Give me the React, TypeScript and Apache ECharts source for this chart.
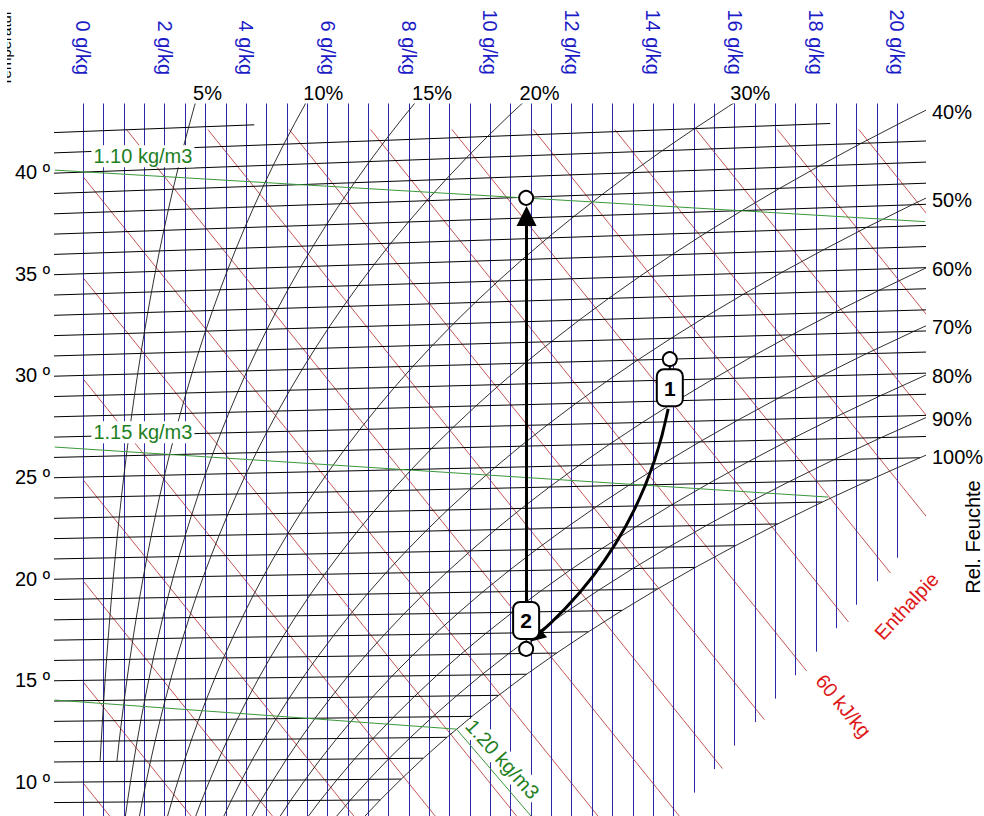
import React, { useEffect, useRef } from "react";
import * as echarts from "echarts";

// ---------------- data ----------------
const AIR_PRESSURE_HPA = 990;

// saturation vapour pressure over water (hPa) per temperature (°C)
const satTemps = [8, 9, 10, 11, 12, 13, 14, 15, 16, 17, 18, 19, 20, 21, 22, 23, 24, 25, 26, 27, 28, 29, 30, 31, 32, 33, 34, 35, 36, 37, 38, 39, 40, 41, 42, 43, 44, 45];
const satPressureHpa = [10.73, 11.48, 12.28, 13.12, 14.02, 14.97, 15.98, 17.04, 18.17, 19.37, 20.63, 21.96, 23.37, 24.86, 26.43, 28.08, 29.83, 31.67, 33.61, 35.65, 37.8, 40.06, 42.43, 44.93, 47.55, 50.31, 53.2, 56.24, 59.42, 62.76, 66.26, 69.93, 73.77, 77.8, 82.01, 86.42, 91.03, 95.85];

const rhLevels = [5, 10, 15, 20, 30, 40, 50, 60, 70, 80, 90, 100];
const rhLowestTemp = [11, 11, 8, 8, 8, 8, 8, 8, 8, 8, 8, 8];

const isothermTemps = [8, 9, 10, 11, 12, 13, 14, 15, 16, 17, 18, 19, 20, 21, 22, 23, 24, 25, 26, 27, 28, 29, 30, 31, 32, 33, 34, 35, 36, 37, 38, 39, 40, 41, 42];
const isothermCapTemps = [41, 42];
const isothermCapX = [18.35, 4.2];

const moistureGridLines = [0, 0.5, 1, 1.5, 2, 2.5, 3, 3.5, 4, 4.5, 5, 5.5, 6, 6.5, 7, 7.5, 8, 8.5, 9, 9.5, 10, 10.5, 11, 11.5, 12, 12.5, 13, 13.5, 14, 14.5, 15, 15.5, 16, 16.5, 17, 17.5, 18, 18.5, 19, 19.5, 20];
const moistureTicks = [0, 2, 4, 6, 8, 10, 12, 14, 16, 18, 20];
const temperatureTicks = [10, 15, 20, 25, 30, 35, 40];

const enthalpyLevels = [10, 15, 20, 25, 30, 35, 40, 45, 50, 55, 60, 65, 70, 75, 80, 85, 90];
const enthalpyValueLabel = "60 kJ/kg";
const enthalpyValueLevel = 60;
const enthalpyTitle = "Enthalpie";
const enthalpyTitleLevel = 70;

// density lines: [g/kg, °C]
const density110 = [[-0.7, 40.15], [20.68, 36.18]];
const density115 = [[-0.7, 26.51], [18.3, 23.23]];
const density120 = [[-0.7, 14.05], [9.17, 12.39], [11.0, 8.16]];
const densityLabels = ["1.10 kg/m3", "1.15 kg/m3", "1.20 kg/m3"];

// process: [g/kg, °C]
const processPoints = [[14.41, 30.0], [10.88, 16.22], [10.88, 37.97]];
const processNames = ["1", "2", ""];
const coolingArrow = [[14.37, 27.62], [11.12, 16.81]];
const heatingArrow = [[10.89, 18.48], [10.89, 37.09]];

// ---------------- chart frame ----------------
const X_MIN = -0.6953;
const X_MAX = 20.68;
const Y_MIN = 8.328;
const Y_MAX = 43.35;
const ENTHALPY_TOP = 42.1;
const FOG_BLUE = [2.31, -25.17];
const FOG_RED = [2.33, -25.93];

const FONT = '"Liberation Sans", Arial, sans-serif';

// Mollier skew: chart ordinate for (x g/kg, t °C)
const toY = (x: number, t: number) => t * (1 + 0.0018489 * x);
const enthalpyY = (h: number, x: number) => (h - 2.501 * x) / 1.006;
const moisture = (phi: number, ps: number) => (622 * phi * ps) / (AIR_PRESSURE_HPA - phi * ps);

const rhCurves: number[][][] = rhLevels.map((rh, k) => {
  const pts: number[][] = [];
  satTemps.forEach((t, i) => {
    if (t < rhLowestTemp[k]) return;
    const x = moisture(rh / 100, satPressureHpa[i]);
    pts.push([x, toY(x, t)]);
  });
  return pts;
});

const isothermSegs = isothermTemps.map((t) => {
  const i = satTemps.indexOf(t);
  let xe = moisture(1, satPressureHpa[i]);
  const c = isothermCapTemps.indexOf(t);
  if (c >= 0) xe = Math.min(xe, isothermCapX[c]);
  const xs = -0.8;
  return [[xs, toY(xs, t)], [xe, toY(xe, t)]];
});

const blueSegs = moistureGridLines.map((x) => [
  [x, Y_MAX + 1],
  [x, Math.max(Y_MIN - 1, FOG_BLUE[0] * x + FOG_BLUE[1])],
]);

const enthalpyEndX = (h: number) => (h - 1.006 * FOG_RED[1]) / (2.501 + 1.006 * FOG_RED[0]);
const enthalpySegs = enthalpyLevels.map((h) => {
  const xs = Math.max(0, (h - 1.006 * ENTHALPY_TOP) / 2.501);
  const xe = enthalpyEndX(h);
  return [[xs, enthalpyY(h, xs)], [xe, enthalpyY(h, xe)]];
});

const conv = (pts: number[][]) => pts.map((p) => [p[0], toY(p[0], p[1])]);

function buildOption(): any {
  const densitySeries = [density110, density115, density120].map((d) => ({
    type: "line",
    data: conv(d),
    showSymbol: false,
    symbol: "none",
    silent: true,
    clip: true,
    z: 5,
    lineStyle: { color: "#3a983a", width: 1 },
  }));
  const rhSeries = rhCurves.map((pts) => ({
    type: "line",
    data: pts,
    showSymbol: false,
    symbol: "none",
    silent: true,
    clip: true,
    z: 4,
    lineStyle: { color: "#1a1a1a", width: 0.9 },
  }));
  return {
    animation: false,
    backgroundColor: "#ffffff",
    textStyle: { fontFamily: FONT },
    grid: { left: 55, right: 59, top: 104, bottom: 0, containLabel: false, outerBoundsMode: "none" },
    xAxis: {
      type: "value",
      position: "top",
      min: X_MIN,
      max: X_MAX,
      axisLine: { show: false },
      axisTick: { show: false },
      splitLine: { show: false },
      axisLabel: {
        customValues: moistureTicks,
        formatter: (v: number) => `${Math.round(v)} g/kg`,
        rotate: 90,
        margin: 29,
        color: "#1c1cc6",
        fontSize: 20,
        fontFamily: FONT,
      },
    },
    yAxis: {
      type: "value",
      min: Y_MIN,
      max: Y_MAX,
      axisLine: { show: false },
      axisTick: { show: false },
      splitLine: { show: false },
      axisLabel: {
        customValues: temperatureTicks,
        formatter: (v: number) => `${Math.round(v)} º`,
        margin: 5,
        color: "#000",
        fontSize: 20,
        fontFamily: FONT,
      },
    },
    series: [
      {
        type: "lines",
        coordinateSystem: "cartesian2d",
        data: enthalpySegs.map((c) => ({ coords: c })),
        lineStyle: { color: "#c85656", width: 1, opacity: 1 },
        silent: true,
        z: 2,
      },
      {
        type: "lines",
        coordinateSystem: "cartesian2d",
        data: blueSegs.map((c) => ({ coords: c })),
        lineStyle: { color: "#2a2aa8", width: 1, opacity: 1 },
        silent: true,
        z: 3,
      },
      {
        type: "lines",
        coordinateSystem: "cartesian2d",
        data: isothermSegs.map((c) => ({ coords: c })),
        lineStyle: { color: "#000", width: 1, opacity: 1 },
        silent: true,
        z: 4,
      },
      ...rhSeries,
      ...densitySeries,
      {
        type: "lines",
        coordinateSystem: "cartesian2d",
        data: [{ coords: conv(coolingArrow) }],
        lineStyle: { color: "#000", width: 3, opacity: 1, curveness: 0.17 },
        symbol: ["none", "triangle"],
        symbolSize: 16,
        silent: true,
        z: 10,
      },
      {
        type: "lines",
        coordinateSystem: "cartesian2d",
        data: [{ coords: conv(heatingArrow) }],
        lineStyle: { color: "#000", width: 3, opacity: 1 },
        symbol: ["none", "triangle"],
        symbolSize: 20,
        silent: true,
        z: 10,
      },
      {
        type: "scatter",
        data: conv(processPoints),
        symbol: "circle",
        symbolSize: 14,
        itemStyle: { color: "#fff", borderColor: "#000", borderWidth: 2, opacity: 1 },
        silent: true,
        z: 11,
      },
    ],
  };
}

function text(x: number, y: number, str: string, o: any = {}) {
  const align = o.align || "center";
  const valign = o.valign || "middle";
  const style: any = {
    text: str,
    x: 0,
    y: 0,
    fill: o.color || "#000",
    font: `${o.weight || "normal"} ${o.size || 20}px ${FONT}`,
    textAlign: align,
    textVerticalAlign: valign,
    align,
    verticalAlign: valign,
  };
  if (o.bg) {
    style.backgroundColor = o.bg;
    style.padding = o.pad || [1, 3];
  }
  return { type: "text", x, y, rotation: o.rotation || 0, z: o.z || 100, silent: true, style };
}

function buildGraphics(chart: any) {
  const P = (x: number, y: number) => chart.convertToPixel({ gridIndex: 0 }, [x, y]) as number[];
  const els: any[] = [];

  // relative-humidity labels
  rhCurves.forEach((pts, k) => {
    let anchor: number[] | null = null;
    let side = "top";
    for (let i = 1; i < pts.length && !anchor; i++) {
      const a = pts[i - 1];
      const b = pts[i];
      let fTop = Infinity;
      let fRight = Infinity;
      if (a[1] < Y_MAX && b[1] >= Y_MAX) fTop = (Y_MAX - a[1]) / (b[1] - a[1]);
      if (a[0] < X_MAX && b[0] >= X_MAX) fRight = (X_MAX - a[0]) / (b[0] - a[0]);
      if (fTop === Infinity && fRight === Infinity) continue;
      if (fRight <= fTop) {
        anchor = [X_MAX, a[1] + fRight * (b[1] - a[1])];
        side = "right";
      } else {
        anchor = [a[0] + fTop * (b[0] - a[0]), Y_MAX];
        side = "top";
      }
    }
    if (!anchor) return;
    const p = P(anchor[0], anchor[1]);
    const label = `${rhLevels[k]}%`;
    if (side === "top") els.push(text(p[0] - 2, p[1] - 11.5, label, { align: "left" }));
    else els.push(text(p[0] + 7, p[1] + 1, label, { align: "left" }));
  });

  // density labels
  const d110 = P(0.2, toY(0.2, density110[0][1] + (density110[1][1] - density110[0][1]) * (0.9 / 21.38)));
  els.push(text(d110[0], d110[1] - 16, densityLabels[0], { align: "left", color: "#1f801f", bg: "#fff", pad: [1, 2] }));
  const d115 = P(0.2, toY(0.2, density115[0][1] + (density115[1][1] - density115[0][1]) * (0.9 / 19.0)));
  els.push(text(d115[0], d115[1] - 17, densityLabels[1], { align: "left", color: "#1f801f", bg: "#fff", pad: [1, 2] }));
  const d120 = P(density120[1][0], toY(density120[1][0], density120[1][1]));
  els.push(text(d120[0] + 46, d120[1] + 30, densityLabels[2], { color: "#1f801f", bg: "#fff", pad: [1, 2], rotation: (-48 * Math.PI) / 180 }));

  // enthalpy labels
  const h60x = enthalpyEndX(enthalpyValueLevel);
  const h60 = P(h60x, enthalpyY(enthalpyValueLevel, h60x));
  els.push(text(h60[0] + 37, h60[1] + 35, enthalpyValueLabel, { color: "#dd1818", rotation: (-50.5 * Math.PI) / 180 }));
  const h70x = enthalpyEndX(enthalpyTitleLevel);
  const h70 = P(h70x, enthalpyY(enthalpyTitleLevel, h70x));
  els.push(text(h70[0] + 16, h70[1] + 33, enthalpyTitle, { color: "#dd1818", rotation: (47 * Math.PI) / 180 }));

  // axis titles
  els.push(text(973, 537, "Rel. Feuchte", { rotation: Math.PI / 2 }));
  els.push(text(13, 48, "Temperatur", { rotation: Math.PI / 2, valign: "bottom", size: 15 }));
  els.push({ type: "rect", z: 101, silent: true, shape: { x: 0, y: 0, width: 7, height: 96 }, style: { fill: "#fff" } });

  // process state boxes
  processPoints.forEach((pt, i) => {
    if (!processNames[i]) return;
    const c = P(pt[0], toY(pt[0], pt[1]));
    const top = i === 0 ? c[1] + 10 : c[1] - 47;
    if (i === 0) {
      els.push({ type: "line", z: 99, silent: true, shape: { x1: c[0], y1: c[1] + 6, x2: c[0], y2: c[1] + 11 }, style: { stroke: "#000", lineWidth: 2 } });
    }
    els.push({
      type: "group",
      x: c[0],
      y: top,
      z: 100,
      silent: true,
      children: [
        { type: "rect", z: 100, shape: { x: -13, y: 0, width: 26, height: 37, r: 7 }, style: { fill: "#fff", stroke: "#000", lineWidth: 2 } },
        {
          type: "text",
          z: 101,
          x: 0,
          y: 19,
          style: { text: processNames[i], x: 0, y: 0, fill: "#000", font: `bold 21px ${FONT}`, textAlign: "center", textVerticalAlign: "middle", align: "center", verticalAlign: "middle" },
        },
      ],
    });
  });
  return els;
}

export default function App() {
  const ref = useRef<HTMLDivElement>(null);
  useEffect(() => {
    const el = ref.current;
    if (!el) return;
    const chart = echarts.init(el, undefined, { renderer: "svg" });
    chart.setOption(buildOption());
    chart.setOption({ graphic: buildGraphics(chart) });
    return () => chart.dispose();
  }, []);
  return (
    <div
      ref={ref}
      style={{ position: "absolute", left: 0, top: 0, width: 984, height: 816, background: "#fff" }}
    />
  );
}
